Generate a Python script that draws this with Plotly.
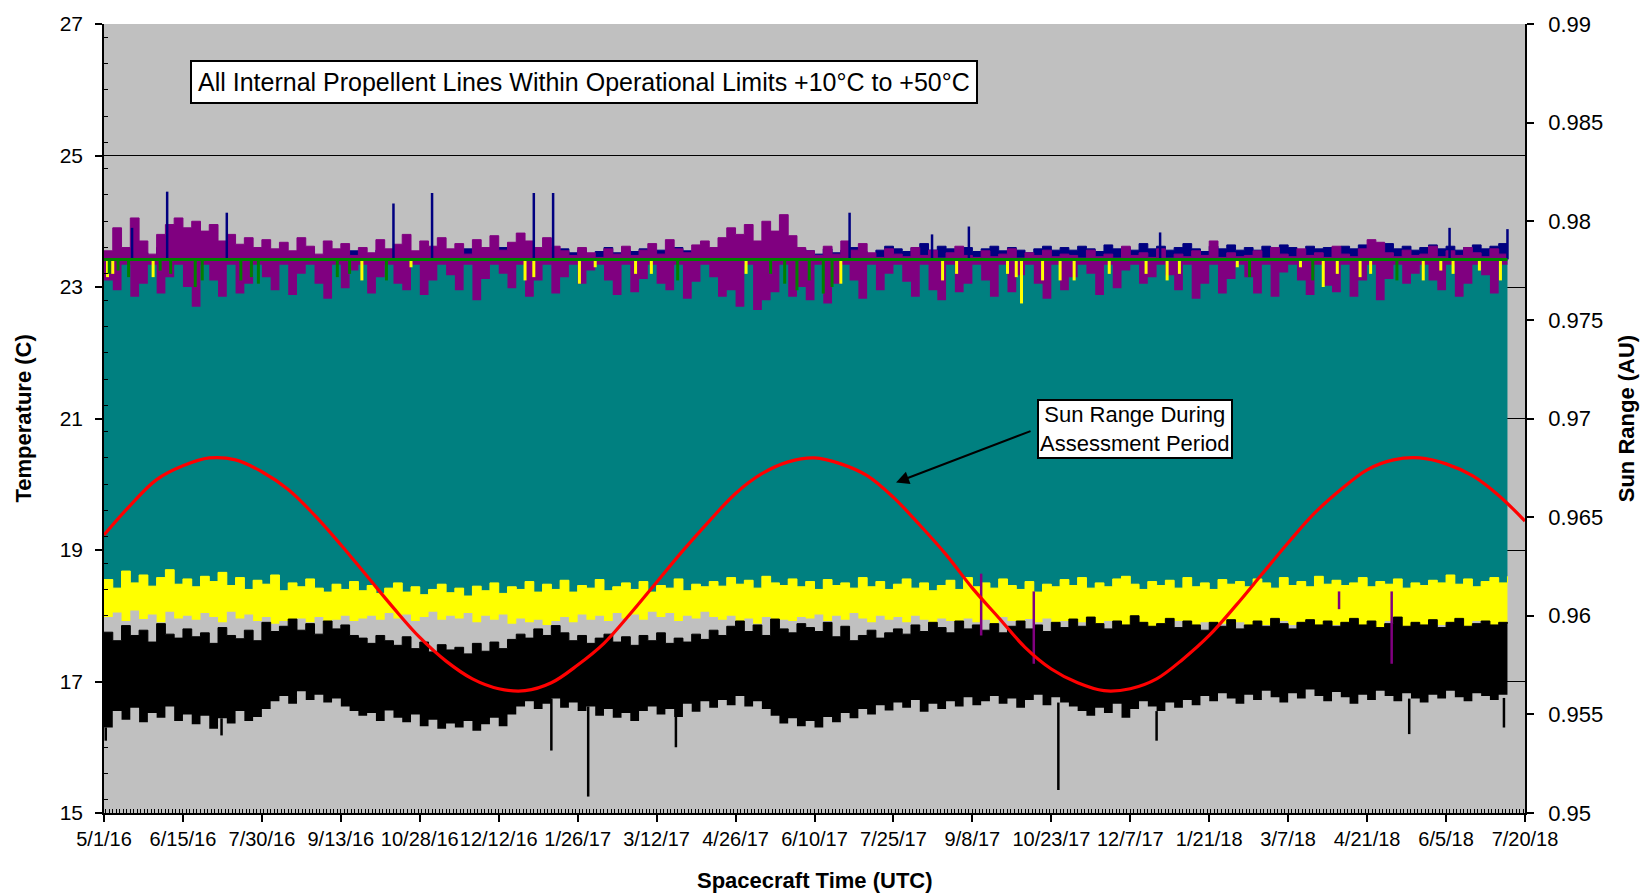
import pandas as pd
import plotly.graph_objects as go

# ---------------------------------------------------------------------------
# Data: propellent line temperatures (deg C) and sun range (AU)
# Sensor envelopes are sampled every STEP_DAYS days from START.
# ---------------------------------------------------------------------------
START = pd.Timestamp("2016-05-01")
END = pd.Timestamp("2018-07-20")
STEP_DAYS = 5

GREEN_LEVEL = 23.42   # steady line near the top of the cluster

# lower black trace: top and bottom of its excursion band
BLACK_HI = [
    17.75, 17.62, 17.85, 17.70, 17.78, 17.60, 17.88, 17.72, 17.66, 17.80,
    17.68, 17.74, 17.58, 17.82, 17.70, 17.65, 17.78, 17.62, 17.90, 17.76,
    17.84, 17.95, 17.78, 17.88, 17.72, 17.92, 17.80, 17.86, 17.70, 17.66,
    17.58, 17.70, 17.62, 17.55, 17.68, 17.50, 17.60, 17.45, 17.56, 17.48,
    17.52, 17.42, 17.58, 17.46, 17.60, 17.50, 17.64, 17.72, 17.66, 17.80,
    17.70, 17.85, 17.74, 17.62, 17.70, 17.58, 17.66, 17.72, 17.60, 17.68,
    17.55, 17.70, 17.62, 17.74, 17.58, 17.66, 17.60, 17.72, 17.64, 17.78,
    17.70, 17.84, 17.92, 17.76, 17.86, 17.70, 17.95, 17.80, 17.74, 17.88,
    17.82, 17.76, 17.90, 17.68, 17.84, 17.62, 17.70, 17.78, 17.66, 17.74,
    17.80, 17.72, 17.86, 17.76, 17.90, 17.82, 17.74, 17.92, 17.80, 17.86,
    17.78, 17.88, 17.74, 17.84, 17.92, 17.80, 17.86, 17.76, 17.90, 17.82,
    17.95, 17.84, 17.98, 17.88, 17.80, 17.92, 17.86, 18.00, 17.90, 17.84,
    17.88, 17.96, 17.82, 17.92, 17.86, 17.78, 17.90, 17.84, 17.94, 17.80,
    17.86, 17.92, 17.84, 17.96, 17.88, 17.80, 17.90, 17.94, 17.86, 17.92,
    17.84, 17.90, 17.96, 17.86, 17.92, 17.82, 17.88, 17.98, 17.84, 17.90,
    17.86, 17.94, 17.82, 17.90, 17.96, 17.84, 17.88, 17.92, 17.86, 17.90,
    17.88,
]
BLACK_LO = [
    16.30, 16.55, 16.42, 16.60, 16.38, 16.52, 16.45, 16.62, 16.40, 16.50,
    16.35, 16.48, 16.28, 16.44, 16.36, 16.55, 16.40, 16.46, 16.58, 16.70,
    16.78, 16.66, 16.85, 16.72, 16.80, 16.68, 16.74, 16.62, 16.55, 16.48,
    16.52, 16.40, 16.56, 16.45, 16.38, 16.50, 16.32, 16.42, 16.28, 16.36,
    16.30, 16.40, 16.25, 16.35, 16.45, 16.32, 16.50, 16.62, 16.70, 16.58,
    16.66, 16.74, 16.60, 16.68, 16.55, 16.62, 16.48, 16.58, 16.45, 16.52,
    16.40, 16.55, 16.62, 16.50, 16.58, 16.46, 16.66, 16.54, 16.70, 16.60,
    16.72, 16.64, 16.78, 16.62, 16.70, 16.58, 16.48, 16.36, 16.44, 16.32,
    16.40, 16.30, 16.46, 16.38, 16.52, 16.44, 16.58, 16.50, 16.64, 16.56,
    16.68, 16.60, 16.72, 16.54, 16.66, 16.58, 16.70, 16.62, 16.76, 16.64,
    16.70, 16.78, 16.66, 16.74, 16.60, 16.72, 16.80, 16.64, 16.76, 16.68,
    16.62, 16.55, 16.48, 16.60, 16.52, 16.66, 16.45, 16.58, 16.70, 16.62,
    16.55, 16.68, 16.60, 16.72, 16.64, 16.78, 16.70, 16.82, 16.74, 16.66,
    16.80, 16.72, 16.86, 16.76, 16.68, 16.82, 16.74, 16.88, 16.78, 16.70,
    16.84, 16.76, 16.66, 16.80, 16.72, 16.86, 16.78, 16.70, 16.82, 16.74,
    16.68, 16.80, 16.74, 16.86, 16.76, 16.70, 16.82, 16.78, 16.72, 16.80,
    16.75,
]

# lower yellow trace
YELLOW_HI = [
    18.55, 18.42, 18.68, 18.50, 18.62, 18.45, 18.58, 18.70, 18.48, 18.56,
    18.44, 18.60, 18.52, 18.66, 18.46, 18.58, 18.40, 18.54, 18.48, 18.62,
    18.38, 18.50, 18.44, 18.56, 18.42, 18.36, 18.48, 18.40, 18.52, 18.38,
    18.46, 18.34, 18.42, 18.50, 18.36, 18.44, 18.32, 18.40, 18.48, 18.35,
    18.42, 18.30, 18.45, 18.38, 18.50, 18.34, 18.44, 18.40, 18.52, 18.36,
    18.48, 18.40, 18.54, 18.36, 18.46, 18.42, 18.55, 18.38, 18.44, 18.50,
    18.40, 18.52, 18.36, 18.46, 18.42, 18.56, 18.38, 18.48, 18.44, 18.52,
    18.45, 18.58, 18.48, 18.54, 18.42, 18.60, 18.50, 18.46, 18.56, 18.44,
    18.52, 18.40, 18.55, 18.46, 18.50, 18.42, 18.58, 18.44, 18.52, 18.40,
    18.48, 18.56, 18.42, 18.50, 18.38, 18.46, 18.54, 18.40, 18.58, 18.44,
    18.50, 18.42, 18.56, 18.46, 18.40, 18.52, 18.36, 18.48, 18.44, 18.55,
    18.46, 18.58, 18.42, 18.50, 18.44, 18.56, 18.60, 18.48, 18.40, 18.52,
    18.46, 18.54, 18.42, 18.58, 18.44, 18.50, 18.40, 18.55, 18.48, 18.52,
    18.44, 18.56, 18.50, 18.42, 18.58, 18.46, 18.52, 18.44, 18.60, 18.48,
    18.54, 18.46, 18.50, 18.58, 18.44, 18.52, 18.48, 18.56, 18.42, 18.50,
    18.46, 18.54, 18.50, 18.62, 18.48, 18.56, 18.44, 18.52, 18.58, 18.50,
    18.60,
]
YELLOW_LO = [
    17.98, 18.05, 17.92, 18.08, 17.95, 18.02, 17.90, 18.06, 17.96, 18.00,
    17.94, 18.04, 17.98, 17.90, 18.06, 17.96, 18.02, 17.92, 17.98, 17.88,
    17.92, 17.86, 17.96, 17.90, 17.98, 17.88, 17.94, 18.00, 17.92, 17.96,
    18.00, 17.94, 18.04, 17.96, 18.02, 17.92, 17.98, 18.06, 17.94, 18.00,
    17.96, 18.04, 17.90, 18.00, 17.94, 18.02, 17.88, 17.96, 17.90, 17.94,
    17.86, 17.92, 17.98, 17.90, 18.02, 17.94, 18.00, 17.92, 18.04, 17.96,
    18.02, 17.94, 18.06, 17.98, 18.04, 17.92, 18.00, 17.96, 18.06, 17.98,
    17.94, 18.00, 17.90, 17.96, 17.88, 17.98, 17.86, 17.94, 17.92, 17.98,
    17.96, 18.02, 17.92, 18.00, 17.94, 18.04, 17.96, 17.90, 18.00, 17.94,
    17.98, 17.90, 18.00, 17.94, 17.86, 17.96, 17.92, 17.88, 17.96, 17.90,
    17.94, 17.88, 17.98, 17.92, 17.86, 17.95, 17.90, 17.96, 17.88, 17.92,
    17.86, 17.90, 17.82, 17.88, 17.92, 17.84, 17.80, 17.90, 17.86, 17.82,
    17.88, 17.84, 17.92, 17.86, 17.80, 17.90, 17.84, 17.88, 17.82, 17.90,
    17.84, 17.90, 17.86, 17.82, 17.92, 17.86, 17.80, 17.88, 17.84, 17.90,
    17.86, 17.82, 17.90, 17.84, 17.88, 17.80, 17.92, 17.86, 17.82, 17.88,
    17.84, 17.90, 17.86, 17.82, 17.88, 17.84, 17.92, 17.86, 17.82, 17.88,
    17.86,
]

# purple trace swinging around the steady line
PURPLE_HI = [
    23.55, 23.90, 23.60, 24.05, 23.70, 23.50, 23.80, 23.95, 24.05, 23.90,
    24.00, 23.85, 23.95, 23.70, 23.80, 23.65, 23.75, 23.60, 23.72, 23.58,
    23.68, 23.55, 23.75, 23.62, 23.50, 23.70, 23.58, 23.66, 23.48, 23.60,
    23.52, 23.72, 23.58, 23.65, 23.80, 23.55, 23.70, 23.62, 23.75, 23.58,
    23.66, 23.50, 23.72, 23.60, 23.78, 23.56, 23.68, 23.82, 23.70, 23.60,
    23.75, 23.62, 23.55, 23.48, 23.60, 23.52, 23.45, 23.58, 23.50, 23.62,
    23.48, 23.56, 23.66, 23.50, 23.72, 23.58, 23.52, 23.64, 23.70, 23.60,
    23.75, 23.90, 23.80, 23.95, 23.70, 24.00, 23.85, 24.10, 23.78, 23.60,
    23.55, 23.48, 23.62, 23.50, 23.70, 23.56, 23.66, 23.52, 23.45, 23.58,
    23.50, 23.46, 23.60, 23.48, 23.56, 23.44, 23.52, 23.62, 23.48, 23.45,
    23.55, 23.46, 23.50, 23.58, 23.44, 23.52, 23.48, 23.56, 23.46, 23.50,
    23.48, 23.44, 23.56, 23.46, 23.50, 23.44, 23.62, 23.48, 23.52, 23.45,
    23.58, 23.44, 23.50, 23.46, 23.55, 23.48, 23.70, 23.45, 23.52, 23.46,
    23.48, 23.55, 23.44, 23.60, 23.50, 23.46, 23.58, 23.48, 23.52, 23.45,
    23.62, 23.50, 23.46, 23.58, 23.72, 23.68, 23.52, 23.46, 23.56, 23.48,
    23.50, 23.62, 23.46, 23.55, 23.48, 23.60, 23.52, 23.46, 23.58, 23.50,
    23.48,
]
PURPLE_LO = [
    23.10, 22.95, 23.34, 22.85, 23.05, 23.34, 22.90, 23.15, 23.34, 23.00,
    22.70, 23.34, 23.10, 22.85, 23.34, 22.90, 23.05, 23.34, 23.15, 22.95,
    23.34, 22.88, 23.20, 23.34, 23.05, 22.82, 23.34, 22.98, 23.25, 23.34,
    22.90, 23.15, 23.34, 23.05, 22.95, 23.34, 22.88, 23.10, 23.34, 23.18,
    22.95, 23.34, 22.80, 23.12, 23.34, 23.20, 22.98, 23.34, 22.85, 23.10,
    23.34, 22.90, 23.15, 23.34, 23.05, 23.25, 23.34, 23.10, 22.88, 23.34,
    22.92, 23.12, 23.34, 23.05, 22.95, 23.34, 22.82, 23.08, 23.34, 23.15,
    22.85, 22.95, 22.70, 23.34, 22.65, 22.80, 22.92, 23.34, 22.85, 23.00,
    22.80, 23.34, 22.75, 23.05, 23.34, 23.10, 22.82, 23.34, 22.95, 23.20,
    23.34, 23.08, 22.85, 23.34, 22.95, 22.80, 23.34, 22.92, 23.05, 23.34,
    23.10, 22.85, 23.34, 22.92, 23.18, 23.34, 23.05, 22.82, 23.34, 22.95,
    23.15, 23.34, 23.20, 22.88, 23.34, 22.98, 23.25, 23.34, 23.05, 23.15,
    23.34, 23.18, 22.95, 23.34, 22.82, 23.05, 23.34, 22.90, 23.12, 23.34,
    23.15, 22.90, 23.34, 22.85, 23.22, 23.34, 23.10, 22.88, 23.34, 23.02,
    22.92, 23.34, 22.85, 23.10, 23.34, 22.80, 23.12, 23.34, 23.05, 23.20,
    23.34, 23.10, 22.95, 23.34, 22.85, 23.05, 23.34, 23.18, 22.90, 23.34,
    23.10,
]

# navy trace riding just above the steady line
BLUE_HI = [
    23.50, 23.45, 23.55, 23.48, 23.52, 23.46, 23.60, 23.50, 23.48, 23.55,
    23.46, 23.50, 23.44, 23.52, 23.48, 23.46, 23.55, 23.45, 23.50, 23.48,
    23.52, 23.46, 23.50, 23.58, 23.48, 23.44, 23.52, 23.47, 23.55, 23.50,
    23.48, 23.56, 23.50, 23.46, 23.52, 23.48, 23.55, 23.50, 23.46, 23.52,
    23.50, 23.58, 23.52, 23.48, 23.55, 23.60, 23.50, 23.56, 23.62, 23.52,
    23.55, 23.50, 23.58, 23.52, 23.56, 23.50, 23.54, 23.60, 23.52, 23.56,
    23.54, 23.58, 23.50, 23.56, 23.52, 23.60, 23.55, 23.50, 23.58, 23.54,
    23.52, 23.56, 23.50, 23.54, 23.48, 23.52, 23.56, 23.50, 23.54, 23.58,
    23.55, 23.50, 23.58, 23.52, 23.56, 23.60, 23.54, 23.50, 23.56, 23.62,
    23.58, 23.54, 23.60, 23.66, 23.56, 23.62, 23.58, 23.55, 23.60, 23.54,
    23.58, 23.62, 23.55, 23.60, 23.56, 23.52, 23.58, 23.62, 23.56, 23.60,
    23.56, 23.62, 23.58, 23.54, 23.64, 23.58, 23.60, 23.56, 23.66, 23.58,
    23.62, 23.56, 23.60, 23.66, 23.58, 23.54, 23.62, 23.58, 23.64, 23.56,
    23.60, 23.56, 23.62, 23.58, 23.64, 23.60, 23.56, 23.62, 23.58, 23.60,
    23.56, 23.62, 23.58, 23.64, 23.56, 23.60, 23.66, 23.58, 23.62, 23.56,
    23.60, 23.64, 23.58, 23.62, 23.56, 23.60, 23.64, 23.58, 23.62, 23.66,
    23.62,
]

# isolated excursions: day offsets from START and the extreme value reached
BLUE_SPIKE_DAY = [16, 36, 70, 165, 187, 245, 256, 425, 472, 493, 602, 767, 800]
BLUE_SPIKE_TOP = [23.90, 24.45, 24.13, 24.27, 24.43, 24.43, 24.43, 24.13,
                  23.80, 23.92, 23.83, 23.90, 23.88]

BLACK_SPIKE_DAY = [1, 67, 255, 276, 326, 544, 600, 744, 798]
BLACK_SPIKE_LOW = [16.10, 16.18, 15.95, 15.25, 16.00, 15.35, 16.10, 16.20, 16.30]

PURPLE_DROP_DAY = [500, 530, 704, 734]
PURPLE_DROP_TOP = [18.64, 18.37, 18.37, 18.37]
PURPLE_DROP_LOW = [17.70, 17.27, 18.10, 17.27]

GREEN_DIP_DAY = [3, 8, 14, 32, 38, 52, 56, 78, 84, 88, 133, 140, 161, 327,
                 380, 388, 395, 402, 410, 415, 653, 689, 737]
GREEN_DIP_LOW = [23.20, 23.25, 23.15, 23.25, 23.20, 23.00, 23.10, 23.10, 23.15,
                 23.05, 23.15, 23.20, 23.10, 23.10, 23.20, 23.05, 22.95, 23.10,
                 22.90, 23.00, 23.15, 23.10, 23.10]

YELLOW_DIP_DAY = [2, 5, 28, 147, 175, 240, 245, 271, 280, 303, 312, 366, 420,
                  478, 486, 515, 520, 523, 535, 545, 553, 573, 594, 606, 613,
                  646, 682, 695, 703, 716, 722, 752, 762, 769, 784, 796]
YELLOW_DIP_LOW = [23.15, 23.20, 23.15, 23.10, 23.30, 23.10, 23.15, 23.05, 23.30,
                  23.20, 23.20, 23.20, 23.05, 23.10, 23.20, 23.20, 23.15, 22.75,
                  23.10, 23.10, 23.10, 23.20, 23.20, 23.10, 23.20, 23.30, 23.30,
                  23.00, 23.20, 23.15, 23.20, 23.10, 23.25, 23.20, 23.25, 23.10]

# sun range (AU), every 15 days from START
SUN_STEP_DAYS = 15
SUN_RANGE = [
    0.9641, 0.9656, 0.9669, 0.9676, 0.9680, 0.9679, 0.9673, 0.9664, 0.9651,
    0.9636, 0.9620, 0.9604, 0.9589, 0.9577, 0.9568, 0.9563, 0.9562, 0.9566,
    0.9575, 0.9586, 0.9601, 0.9617, 0.9633, 0.9648, 0.9662, 0.9672, 0.9678,
    0.9680, 0.9677, 0.9671, 0.9660, 0.9646, 0.9631, 0.9614, 0.9599, 0.9584,
    0.9573, 0.9566, 0.9562, 0.9563, 0.9568, 0.9578, 0.9590, 0.9605, 0.9621,
    0.9637, 0.9652, 0.9664, 0.9674, 0.9679, 0.9680, 0.9677, 0.9671, 0.9661,
    0.9648,
]

LEFT_TICKS = [15, 17, 19, 21, 23, 25, 27]
RIGHT_TICKS = [0.95, 0.955, 0.96, 0.965, 0.97, 0.975, 0.98, 0.985, 0.99]
RIGHT_TICK_LABELS = ["0.95", "0.955", "0.96", "0.965", "0.97", "0.975",
                     "0.98", "0.985", "0.99"]

# ---------------------------------------------------------------------------
GRAY = "#c0c0c0"
TEAL = "#008080"
YELLOW = "#ffff00"
PURPLE = "#800080"
NAVY = "#000080"
GREEN = "#008000"
RED = "#ff0000"
FONT = "Liberation Sans, Arial, sans-serif"


def to_dates(days):
    return [START + pd.Timedelta(days=int(d)) for d in days]


sample_x = to_dates([STEP_DAYS * i for i in range(len(BLACK_HI))])
sun_x = to_dates([SUN_STEP_DAYS * i for i in range(len(SUN_RANGE))])


def segments(days, tops, lows):
    xs, ys = [], []
    for d, t, b in zip(to_dates(days), tops, lows):
        xs += [d, d, None]
        ys += [t, b, None]
    return xs, ys


def band(fig, lo, hi, color, name, width=1):
    fig.add_trace(go.Scatter(x=sample_x, y=lo, mode="lines", name=name,
                             line=dict(color=color, width=0, shape="hv"),
                             showlegend=False, hoverinfo="skip"))
    fig.add_trace(go.Scatter(x=sample_x, y=hi, mode="lines", name=name,
                             line=dict(color=color, width=width, shape="hv"),
                             fill="tonexty", fillcolor=color,
                             showlegend=False, hoverinfo="skip"))


def spikes(fig, days, tops, lows, color, width):
    xs, ys = segments(days, tops, lows)
    fig.add_trace(go.Scatter(x=xs, y=ys, mode="lines",
                             line=dict(color=color, width=width),
                             showlegend=False, hoverinfo="skip"))


fig = go.Figure()

level = [GREEN_LEVEL] * len(sample_x)
band(fig, YELLOW_HI, level, TEAL, "teal", width=0)
band(fig, level, BLUE_HI, NAVY, "navy")
band(fig, PURPLE_LO, PURPLE_HI, PURPLE, "purple")
spikes(fig, BLUE_SPIKE_DAY, BLUE_SPIKE_TOP, [GREEN_LEVEL] * len(BLUE_SPIKE_DAY), NAVY, 2.5)
spikes(fig, YELLOW_DIP_DAY, [GREEN_LEVEL] * len(YELLOW_DIP_DAY), YELLOW_DIP_LOW, YELLOW, 3)
spikes(fig, GREEN_DIP_DAY, [GREEN_LEVEL] * len(GREEN_DIP_DAY), GREEN_DIP_LOW, GREEN, 3)
fig.add_trace(go.Scatter(x=[sample_x[0], sample_x[-1]], y=[GREEN_LEVEL, GREEN_LEVEL],
                         mode="lines", line=dict(color=GREEN, width=3),
                         showlegend=False, hoverinfo="skip"))

band(fig, YELLOW_LO, YELLOW_HI, YELLOW, "yellow")
band(fig, BLACK_LO, BLACK_HI, "#000000", "black")
black_tops = [BLACK_LO[min(round(d / STEP_DAYS), len(BLACK_LO) - 1)] for d in BLACK_SPIKE_DAY]
spikes(fig, BLACK_SPIKE_DAY, black_tops, BLACK_SPIKE_LOW, "#000000", 2.5)
spikes(fig, PURPLE_DROP_DAY, PURPLE_DROP_TOP, PURPLE_DROP_LOW, PURPLE, 2.5)

fig.add_trace(go.Scatter(x=sun_x, y=SUN_RANGE, mode="lines", yaxis="y2",
                         line=dict(color=RED, width=3.2, shape="spline"),
                         showlegend=False, hoverinfo="skip"))

tick_font = dict(family=FONT, size=20, color="#000000")
right_tick_font = dict(family=FONT, size=22, color="#000000")
title_font = dict(family=FONT, size=22, color="#000000")
DAY_MS = 86400000

fig.update_layout(
    width=1652, height=896,
    margin=dict(l=104, r=127, t=18, b=83),
    paper_bgcolor="#ffffff", plot_bgcolor=GRAY,
    showlegend=False,
    xaxis=dict(
        type="date", range=[START, END],
        tick0=START, dtick=45 * DAY_MS, tickformat="%-m/%-d/%y",
        tickangle=0, tickfont=tick_font,
        ticks="outside", ticklen=7, tickwidth=1.5, tickcolor="#000000",
        minor=dict(dtick=2 * DAY_MS, ticks="inside", ticklen=4,
                   tickcolor="#000000", tickwidth=1, showgrid=False),
        showline=True, linecolor="#000000", linewidth=1.5,
        showgrid=False, zeroline=False,
    ),
    yaxis=dict(
        range=[15, 27], tickvals=LEFT_TICKS, tickfont=dict(tick_font, size=21),
        ticks="outside", ticklen=7, tickwidth=1.5, tickcolor="#000000",
        minor=dict(dtick=0.4, ticks="inside", ticklen=4,
                   tickcolor="#000000", tickwidth=1, showgrid=False),
        showline=True, linecolor="#000000", linewidth=1.5,
        showgrid=True, gridcolor="#000000", gridwidth=1,
        zeroline=False, ticklabelstandoff=8,
    ),
    yaxis2=dict(
        overlaying="y", side="right", range=[0.95, 0.99],
        tickvals=RIGHT_TICKS, ticktext=RIGHT_TICK_LABELS, tickfont=right_tick_font,
        ticks="outside", ticklen=7, tickwidth=1.5, tickcolor="#000000",
        showline=True, linecolor="#000000", linewidth=1.5,
        showgrid=False, zeroline=False, ticklabelstandoff=10,
    ),
)

annotations = [
    dict(text="<b>Temperature (C)</b>", xref="paper", yref="paper",
         x=-0.057, y=0.5, xanchor="center", yanchor="middle",
         textangle=-90, showarrow=False, font=title_font),
    dict(text="<b>Sun Range (AU)</b>", xref="paper", yref="paper",
         x=1.0716, y=0.5, xanchor="center", yanchor="middle",
         textangle=-90, showarrow=False, font=title_font),
    dict(text="<b>Spacecraft Time (UTC)</b>", xref="paper", yref="paper",
         x=0.5, y=-0.0855, xanchor="center", yanchor="middle",
         showarrow=False, font=title_font),
    dict(text="All Internal Propellent Lines Within Operational Limits +10°C to +50°C",
         xref="paper", yref="paper", x=0.3378, y=0.927,
         xanchor="center", yanchor="middle", showarrow=False,
         font=dict(family=FONT, size=25, color="#000000"),
         bgcolor="#ffffff", bordercolor="#000000", borderwidth=2, borderpad=6),
    dict(text="Sun Range During<br>Assessment Period",
         xref="paper", yref="paper", x=0.7252, y=0.4862,
         xanchor="center", yanchor="middle", showarrow=False,
         font=dict(family=FONT, size=22, color="#000000"),
         bgcolor="#ffffff", bordercolor="#000000", borderwidth=2, borderpad=1),
    dict(text="", xref="paper", yref="paper", x=0.5574, y=0.4189,
         showarrow=True, ax=136, ay=-52, arrowhead=2, arrowsize=1.3,
         arrowwidth=2, arrowcolor="#000000"),
]
fig.update_layout(annotations=annotations)

fig.write_html("out.html")
